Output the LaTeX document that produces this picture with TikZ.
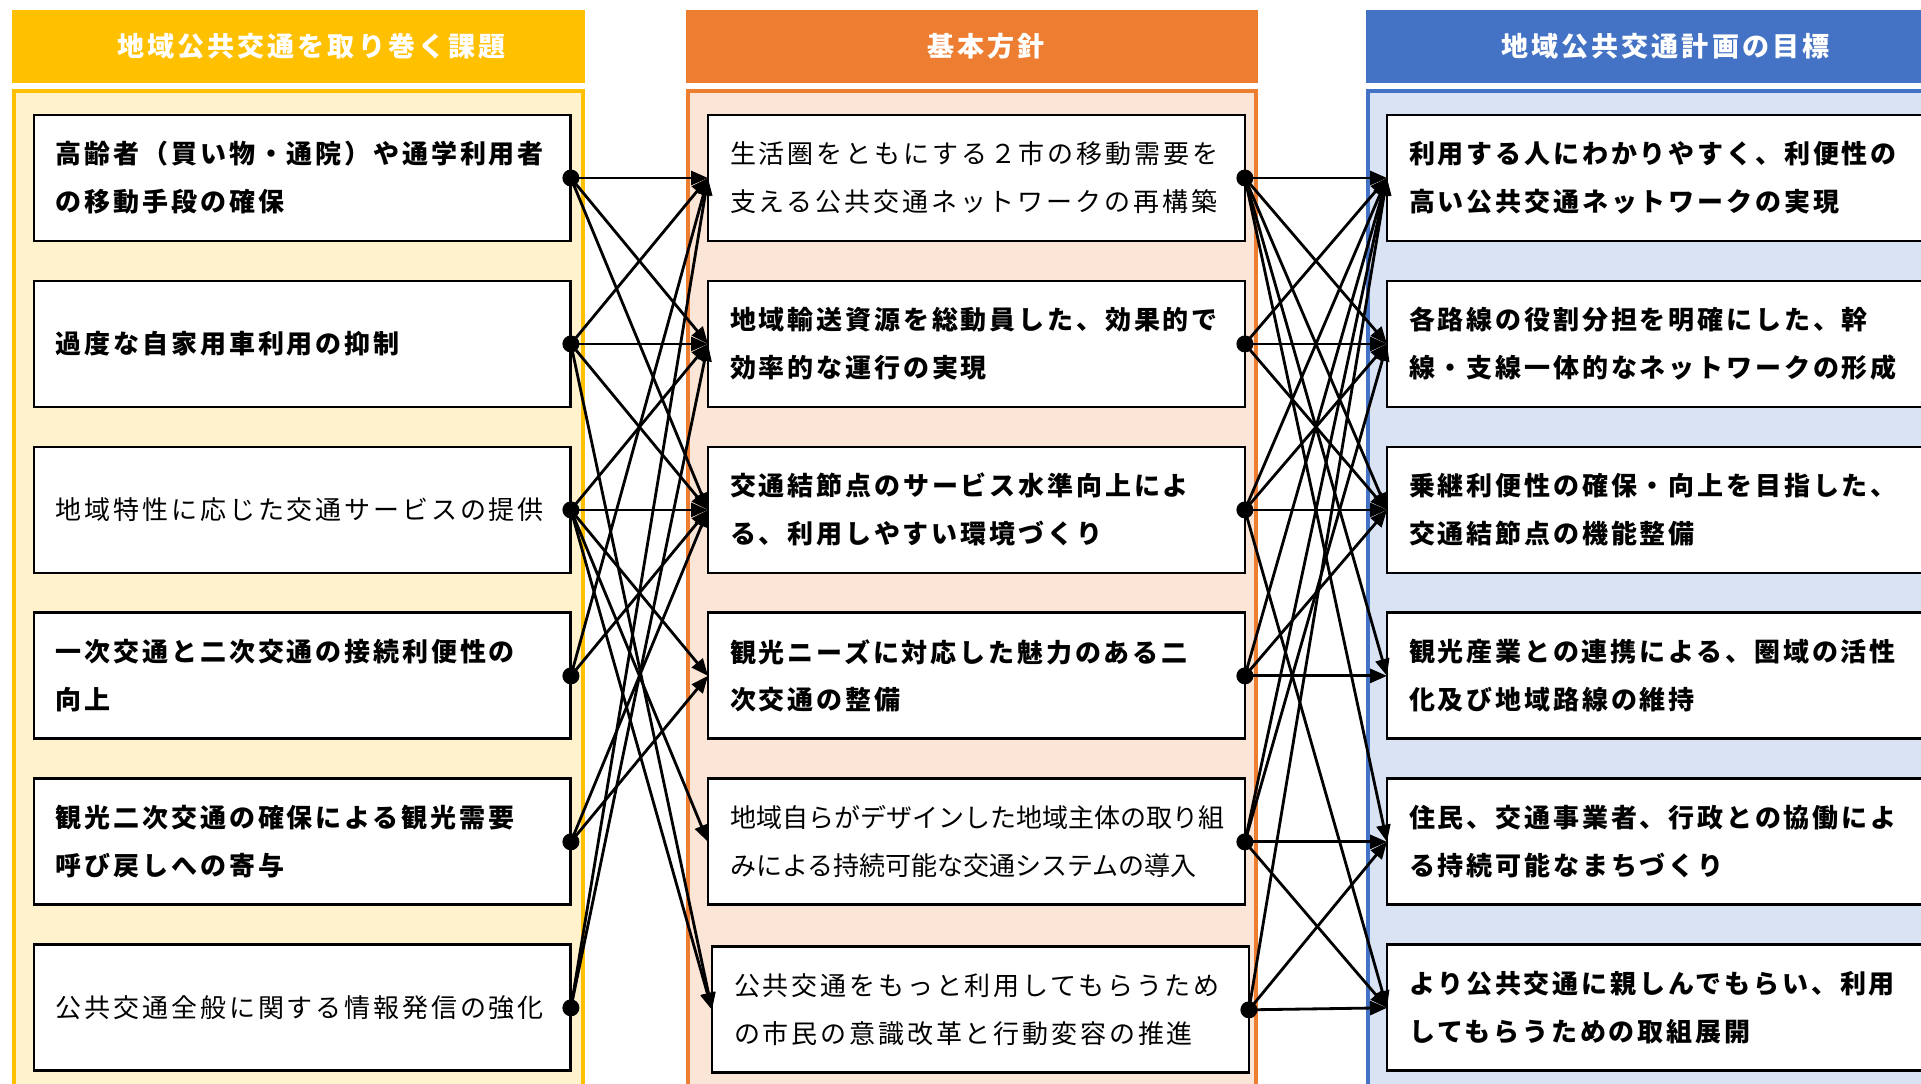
\documentclass[tikz,border=0pt]{standalone}
\usepackage{fontspec}
\usetikzlibrary{positioning,arrows.meta}
\newfontfamily\jp[LetterSpace=11]{Noto Sans CJK JP}
\newfontfamily\jpt[LetterSpace=0]{Noto Sans CJK JP}
\definecolor{Gold}{HTML}{FFC000}
\definecolor{GoldLight}{HTML}{FFF2CC}
\definecolor{Orange}{HTML}{ED7D31}
\definecolor{OrangeLight}{HTML}{FBE5D6}
\definecolor{Blue}{HTML}{4472C4}
\definecolor{BlueLight}{HTML}{DAE3F3}

\begin{document}
\begin{tikzpicture}[
  x=0.02cm, y=-0.02cm,
  node distance=0.8cm,
  head/.style={minimum height=1.46cm, inner sep=0pt},
  headtext/.style={font=\jp\bfseries\fontsize{15.4}{18}\selectfont\color{white}, inner sep=0pt},
  panel/.style={line width=2.8pt},
  box/.style={
    draw=black, line width=1.6pt, fill=white,
    align=left, outer sep=0pt,
    font=\jp\fontsize{14.8}{27.3}\selectfont,
    minimum width=10.74cm,
    minimum height=2.52cm,
    text width=9.86cm,
    inner xsep=0.44cm, inner ysep=0pt
  },
  bbox/.style={box, font=\jp\bfseries\fontsize{14.8}{27.3}\selectfont},
  tbox/.style={box, font=\jpt\fontsize{14.8}{27.3}\selectfont},
  wide/.style={minimum width=12cm, text width=11.12cm},
  arr/.style={-{Triangle[length=0.34cm, width=0.28cm]}, line width=1.6pt},
  dot/.style={fill=black}
]
\useasboundingbox (0,0) rectangle (1921,1084);
\clip (0,0) rectangle (1921,1084);
\fill[white] (0,0) rectangle (1921,1084);

% headers and panels
\node[head, fill=Gold, minimum width=11.46cm] (h1) at (298.5,46.5) {};
\node[head, fill=Orange, minimum width=11.44cm] (h2) at (972,46.5) {};
\node[head, fill=Blue, minimum width=11.98cm] (h3) at (1665.5,46.5) {};
\node[headtext] (t1) at ([xshift=0.26cm]h1.center) {地域公共交通を取り巻く課題};
\node[headtext] (t2) at ([xshift=0.28cm]h2.center) {基本方針};
\node[headtext] (t3) at (h3.center) {地域公共交通計画の目標};

\draw[panel, draw=Gold, fill=GoldLight] (14,91) rectangle (583,1110);
\draw[panel, draw=Orange, fill=OrangeLight] (688,91) rectangle (1256,1110);
\draw[panel, draw=Blue, fill=BlueLight] (1368,91) rectangle (1990,1110);

% issues
\node[bbox, anchor=north west] (l1) at (34,115) {高齢者（買い物・通院）や通学利用者\\の移動手段の確保};
\node[bbox, below=of l1] (l2) {過度な自家用車利用の抑制};
\node[box, below=of l2] (l3) {地域特性に応じた交通サービスの提供};
\node[bbox, below=of l3] (l4) {一次交通と二次交通の接続利便性の\\向上};
\node[bbox, below=of l4] (l5) {観光二次交通の確保による観光需要\\呼び戻しへの寄与};
\node[box, below=of l5] (l6) {公共交通全般に関する情報発信の強化};

% policies
\node[box, anchor=north west] (m1) at (708,115) {生活圏をともにする２市の移動需要を\\支える公共交通ネットワークの再構築};
\node[bbox, below=of m1] (m2) {地域輸送資源を総動員した、効果的で\\効率的な運行の実現};
\node[bbox, below=of m2] (m3) {交通結節点のサービス水準向上によ\\る、利用しやすい環境づくり};
\node[bbox, below=of m3] (m4) {観光ニーズに対応した魅力のある二\\次交通の整備};
\node[tbox, below=of m4] (m5) {地域自らがデザインした地域主体の取り組\\みによる持続可能な交通システムの導入};
\node[box, below=of m5, xshift=0.08cm, yshift=-0.04cm] (m6) {公共交通をもっと利用してもらうため\\の市民の意識改革と行動変容の推進};

% goals
\node[bbox, wide, anchor=north west] (r1) at (1387,115) {利用する人にわかりやすく、利便性の\\高い公共交通ネットワークの実現};
\node[bbox, wide, below=of r1] (r2) {各路線の役割分担を明確にした、幹\\線・支線一体的なネットワークの形成};
\node[bbox, wide, below=of r2] (r3) {乗継利便性の確保・向上を目指した、\\交通結節点の機能整備};
\node[bbox, wide, below=of r3] (r4) {観光産業との連携による、圏域の活性\\化及び地域路線の維持};
\node[bbox, wide, below=of r4] (r5) {住民、交通事業者、行政との協働によ\\る持続可能なまちづくり};
\node[bbox, wide, below=of r5] (r6) {より公共交通に親しんでもらい、利用\\してもらうための取組展開};

% issues -> policies
\draw[arr] (l1.east) -- (m1.west);
\draw[arr] (l1.east) -- (m2.west);
\draw[arr] (l1.east) -- (m3.west);
\draw[arr] (l2.east) -- (m1.west);
\draw[arr] (l2.east) -- (m2.west);
\draw[arr] (l2.east) -- (m3.west);
\draw[arr] (l2.east) -- (m6.west);
\draw[arr] (l3.east) -- (m2.west);
\draw[arr] (l3.east) -- (m3.west);
\draw[arr] (l3.east) -- (m4.west);
\draw[arr] (l3.east) -- (m5.west);
\draw[arr] (l3.east) -- (m6.west);
\draw[arr] (l4.east) -- (m1.west);
\draw[arr] (l4.east) -- (m3.west);
\draw[arr] (l5.east) -- (m3.west);
\draw[arr] (l5.east) -- (m4.west);
\draw[arr] (l6.east) -- (m1.west);
\draw[arr] (l6.east) -- (m2.west);

% policies -> goals
\draw[arr] (m1.east) -- (r1.west);
\draw[arr] (m1.east) -- (r2.west);
\draw[arr] (m1.east) -- (r3.west);
\draw[arr] (m1.east) -- (r4.west);
\draw[arr] (m1.east) -- (r5.west);
\draw[arr] (m2.east) -- (r1.west);
\draw[arr] (m2.east) -- (r2.west);
\draw[arr] (m2.east) -- (r3.west);
\draw[arr] (m3.east) -- (r1.west);
\draw[arr] (m3.east) -- (r2.west);
\draw[arr] (m3.east) -- (r3.west);
\draw[arr] (m3.east) -- (r6.west);
\draw[arr] (m4.east) -- (r1.west);
\draw[arr] (m4.east) -- (r3.west);
\draw[arr] (m4.east) -- (r4.west);
\draw[arr] (m5.east) -- (r1.west);
\draw[arr] (m5.east) -- (r2.west);
\draw[arr] (m5.east) -- (r5.west);
\draw[arr] (m5.east) -- (r6.west);
\draw[arr] (m6.east) -- (r1.west);
\draw[arr] (m6.east) -- (r5.west);
\draw[arr] (m6.east) -- (r6.west);

% start dots
\fill[dot] (l1.east) circle[radius=0.17cm];
\fill[dot] (l2.east) circle[radius=0.17cm];
\fill[dot] (l3.east) circle[radius=0.17cm];
\fill[dot] (l4.east) circle[radius=0.17cm];
\fill[dot] (l5.east) circle[radius=0.17cm];
\fill[dot] (l6.east) circle[radius=0.17cm];
\fill[dot] (m1.east) circle[radius=0.17cm];
\fill[dot] (m2.east) circle[radius=0.17cm];
\fill[dot] (m3.east) circle[radius=0.17cm];
\fill[dot] (m4.east) circle[radius=0.17cm];
\fill[dot] (m5.east) circle[radius=0.17cm];
\fill[dot] (m6.east) circle[radius=0.17cm];
\end{tikzpicture}
\end{document}
